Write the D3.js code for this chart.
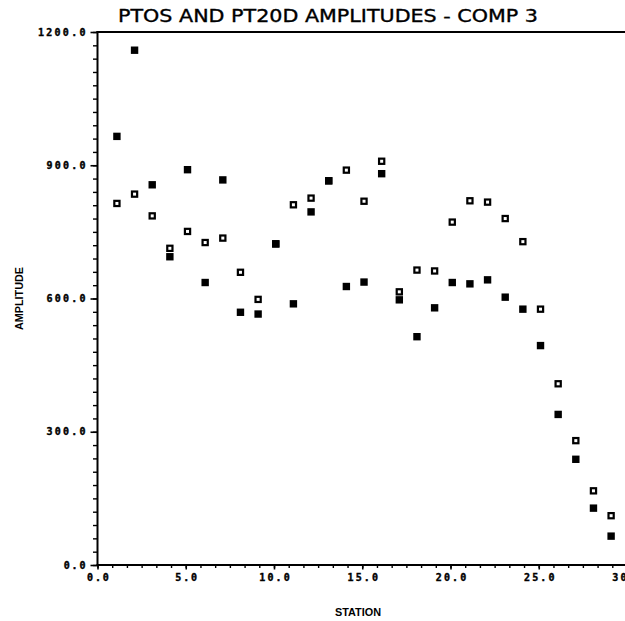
<!DOCTYPE html>
<html>
<head>
<meta charset="utf-8">
<script src="https://cdn.jsdelivr.net/npm/d3@7"></script>
<style>
  html, body { margin: 0; padding: 0; background: #fff; }
  svg { display: block; }
</style>
</head>
<body>
<svg id="chart" width="625" height="621"></svg>
<script>
// Station positions along the profile
const stations = [1.1, 2.1, 3.1, 4.1, 5.1, 6.1, 7.1, 8.1, 9.1, 10.1,
                  11.1, 12.1, 13.1, 14.1, 15.1, 16.1, 17.1, 18.1, 19.1, 20.1,
                  21.1, 22.1, 23.1, 24.1, 25.1, 26.1, 27.1, 28.1, 29.1];
// PTOS amplitudes (filled squares)
const ptos = [965, 1159, 856, 694, 890, 636, 867, 569, 565, 723,
              588, 795, 865, 627, 637, 881, 597, 514, 579, 636,
              633, 642, 603, 576, 494, 339, 238, 128, 65];
// PT20D amplitudes (open squares)
const pt20d = [814, 835, 786, 713, 751, 726, 736, 659, 598, 723,
               811, 826, 865, 889, 819, 909, 615, 664, 662, 772,
               820, 817, 780, 728, 576, 408, 280, 167, 111];
// Axis ticks
const xTicks = [0, 5, 10, 15, 20, 25, 30];
const yTicks = [0, 300, 600, 900, 1200];
const xMinorStep = 5 / 6;
const yMinorStep = 30;

const svg = d3.select("#chart");
const plotLeft = 97.5, plotRight = 627, plotTop = 32, plotBottom = 565;

const x = d3.scaleLinear().domain([0, 30]).range([plotLeft, plotRight]);
const y = d3.scaleLinear().domain([0, 1200]).range([plotBottom, plotTop]);

const labelFont = "'DejaVu Sans Mono', monospace";

// Minor ticks
const xMinor = d3.range(0, 30 + 1e-6, xMinorStep);
const yMinor = d3.range(0, 1200 + 1e-6, yMinorStep);

svg.append("g")
  .attr("transform", `translate(0,${plotBottom})`)
  .call(d3.axisBottom(x).tickValues(xMinor).tickSize(3).tickFormat(""))
  .call(g => g.select(".domain").remove())
  .call(g => g.selectAll("line").attr("stroke", "#000").attr("stroke-width", 1.4));

svg.append("g")
  .attr("transform", `translate(${plotLeft},0)`)
  .call(d3.axisLeft(y).tickValues(yMinor).tickSize(4.5).tickFormat(""))
  .call(g => g.select(".domain").remove())
  .call(g => g.selectAll("line").attr("stroke", "#000").attr("stroke-width", 1.4));

// Major ticks with labels
const fmt = d3.format(".1f");
const xAxis = svg.append("g")
  .attr("transform", `translate(0,${plotBottom})`)
  .call(d3.axisBottom(x).tickValues(xTicks).tickSize(4.5).tickPadding(4).tickFormat(fmt))
  .call(g => g.select(".domain").remove());
const yAxis = svg.append("g")
  .attr("transform", `translate(${plotLeft},0)`)
  .call(d3.axisLeft(y).tickValues(yTicks).tickSize(7).tickPadding(5).tickFormat(fmt))
  .call(g => g.select(".domain").remove());

[xAxis, yAxis].forEach(g => {
  g.selectAll("line").attr("stroke", "#000").attr("stroke-width", 1.6);
  g.selectAll("text")
    .attr("fill", "#000")
    .attr("stroke", "#000")
    .attr("stroke-width", 0.4)
    .style("font-family", labelFont)
    .style("font-weight", "bold")
    .style("font-size", "10px")
    .attr("textLength", function() { return this.textContent.length * 8.6 - 4; })
    .attr("lengthAdjust", "spacing");
});

// Frame lines: left axis, bottom axis, top border
svg.append("line").attr("x1", plotLeft).attr("x2", plotLeft).attr("y1", plotTop - 1).attr("y2", plotBottom + 1)
  .attr("stroke", "#000").attr("stroke-width", 2);
svg.append("line").attr("x1", plotLeft - 1).attr("x2", 625).attr("y1", plotBottom).attr("y2", plotBottom)
  .attr("stroke", "#000").attr("stroke-width", 2);
svg.append("line").attr("x1", plotLeft - 1).attr("x2", 625).attr("y1", plotTop).attr("y2", plotTop)
  .attr("stroke", "#000").attr("stroke-width", 2);

// Open squares (PT20D)
svg.append("g").selectAll("rect")
  .data(stations.map((s, i) => [s, pt20d[i]]))
  .join("rect")
  .attr("x", d => x(d[0]) - 2.6)
  .attr("y", d => y(d[1]) - 2.6)
  .attr("width", 5.2).attr("height", 5.2)
  .attr("fill", "none")
  .attr("stroke", "#000")
  .attr("stroke-width", 2.2);

// Filled squares (PTOS)
svg.append("g").selectAll("rect")
  .data(stations.map((s, i) => [s, ptos[i]]))
  .join("rect")
  .attr("x", d => x(d[0]) - 3.7)
  .attr("y", d => y(d[1]) - 3.7)
  .attr("width", 7.4).attr("height", 7.4)
  .attr("fill", "#000");

// Title
svg.append("text")
  .attr("x", 118).attr("y", 22)
  .attr("textLength", 420).attr("lengthAdjust", "spacingAndGlyphs")
  .style("font-family", "'DejaVu Sans', sans-serif")
  .style("font-size", "17px")
  .attr("fill", "#000")
  .attr("stroke", "#000")
  .attr("stroke-width", 0.35)
  .text("PTOS AND PT20D AMPLITUDES - COMP 3");

// Axis titles
svg.append("text")
  .attr("x", 358).attr("y", 616)
  .attr("text-anchor", "middle")
  .attr("textLength", 46).attr("lengthAdjust", "spacingAndGlyphs")
  .style("font-family", "'Liberation Sans', sans-serif")
  .style("font-weight", "bold")
  .style("font-size", "10.5px")
  .text("STATION");

svg.append("text")
  .attr("transform", "translate(23,298.5) rotate(-90)")
  .attr("text-anchor", "middle")
  .attr("textLength", 63).attr("lengthAdjust", "spacingAndGlyphs")
  .style("font-family", "'Liberation Sans', sans-serif")
  .style("font-weight", "bold")
  .style("font-size", "10px")
  .text("AMPLITUDE");
</script>
</body>
</html>
